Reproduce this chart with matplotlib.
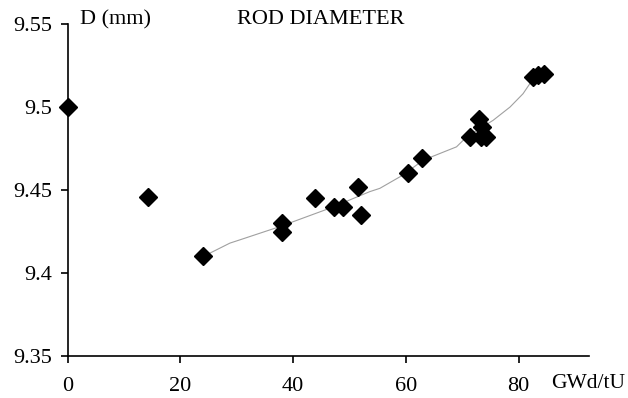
import matplotlib
matplotlib.use("Agg")
import matplotlib.pyplot as plt

# Measured points (burnup GWd/tU, rod diameter mm)
burnup = [0.0, 14.3, 24.1, 38.0, 38.0, 43.9, 47.3, 48.9, 51.5, 52.0,
          60.4, 62.9, 71.4, 73.0, 73.5, 73.3, 74.2, 82.5, 83.5, 84.6]
diameter = [9.500, 9.446, 9.410, 9.430, 9.425, 9.445, 9.440, 9.440, 9.452, 9.435,
            9.460, 9.469, 9.482, 9.493, 9.488, 9.482, 9.482, 9.518, 9.519, 9.520]

# Calculated curve
calc_burnup = [24.1, 28.8, 30.6, 37.7, 46.5, 53.6, 55.4, 59.5, 63.1, 69.0,
               70.8, 75.5, 78.5, 80.8, 82.0, 82.5]
calc_diameter = [9.410, 9.418, 9.420, 9.428, 9.439, 9.449, 9.451, 9.459, 9.468, 9.476,
                 9.482, 9.492, 9.500, 9.508, 9.514, 9.518]

xticks = [0, 20, 40, 60, 80]
yticks = [9.35, 9.4, 9.45, 9.5, 9.55]
ytick_labels = ["9.35", "9.4", "9.45", "9.5", "9.55"]

plt.rcParams['font.family'] = ['Liberation Serif', 'DejaVu Serif']

fig = plt.figure(figsize=(6.28, 3.98), dpi=100)
ax = fig.add_axes([0.1075, 0.1055, 0.8304, 0.8342])

ax.plot(calc_burnup, calc_diameter, color='#a0a0a0', lw=0.8, zorder=2)
ax.plot(burnup, diameter, ls='none', marker='D', ms=9.5, color='black',
        clip_on=False, zorder=3)

ax.set_xlim(0, 92.5)
ax.set_ylim(9.35, 9.55)
ax.set_xticks(xticks)
ax.set_yticks(yticks)
ax.set_yticklabels(ytick_labels)
for s in ['top', 'right']:
    ax.spines[s].set_visible(False)
for s in ['left', 'bottom']:
    ax.spines[s].set_linewidth(1.2)
ax.tick_params(direction='out', length=5, width=1.2, labelsize=16)
ax.tick_params(axis='x', pad=10)
ax.tick_params(axis='y', pad=6)

fig.text(80 / 628, 1 - 20 / 398, "D (mm)", fontsize=16, va='center', ha='left')
fig.text(237 / 628, 1 - 20 / 398, "ROD DIAMETER", fontsize=16, va='center', ha='left')
fig.text(625 / 628, 1 - 384 / 398, "GWd/tU", fontsize=15.5, va='center', ha='right')

fig.savefig("out.png", dpi=100)
